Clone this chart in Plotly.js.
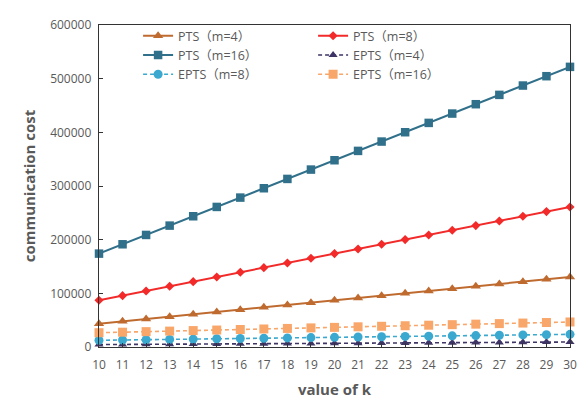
<!DOCTYPE html>
<html>
<head>
<meta charset="utf-8">
<script src="https://cdn.plot.ly/plotly-3.0.1.min.js"></script>
<style>html,body{margin:0;padding:0;background:#fff;}#chart{width:577px;height:400px;}</style>
</head>
<body>
<div id="chart"></div>
<script>
const kValues = [10,11,12,13,14,15,16,17,18,19,20,21,22,23,24,25,26,27,28,29,30];
const ptsM4 = [43500,47850,52200,56550,60900,65250,69600,73950,78300,82650,87000,91350,95700,100050,104400,108750,113100,117450,121800,126150,130500];
const ptsM8 = [87000,95700,104400,113100,121800,130500,139200,147900,156600,165300,174000,182700,191400,200100,208800,217500,226200,234900,243600,252300,261000];
const ptsM16 = [174000,191400,208800,226200,243600,261000,278400,295800,313200,330600,348000,365400,382800,400200,417600,435000,452400,469800,487200,504600,522000];
const eptsM4 = [4500,4750,5000,5250,5500,5700,5950,6200,6450,6700,6900,7150,7400,7650,7900,8100,8350,8600,8850,9100,9300];
const eptsM8 = [12500,13050,13600,14200,14700,15300,15800,16400,16900,17500,18000,18600,19100,19700,20200,20800,21300,21900,22500,23000,23600];
const eptsM16 = [26600,27600,28600,29600,30600,31600,32600,33600,34600,35600,36600,37600,38600,39600,40600,41600,42600,43600,44600,45600,46600];
const seriesNames = ['PTS（m=4）','PTS（m=8）','PTS（m=16）','EPTS（m=4）','EPTS（m=8）','EPTS（m=16）'];
const yTicks = [0,100000,200000,300000,400000,500000,600000];

const styles = [
  {color:'#BF6A2E', symbol:'triangle-up', size:9, dash:'solid', width:2},
  {color:'#F22A2A', symbol:'diamond', size:7, dash:'solid', width:2},
  {color:'#31708A', symbol:'square', size:8.5, dash:'solid', width:2},
  {color:'#3E3566', symbol:'triangle-up', size:8, dash:'4px,3px', width:1.6},
  {color:'#3BA9CF', symbol:'circle', size:9, dash:'4px,3px', width:1.6},
  {color:'#F9A66A', symbol:'square', size:9, dash:'4px,3px', width:1.6}
];
const allY = [ptsM4, ptsM8, ptsM16, eptsM4, eptsM8, eptsM16];
const traces = allY.map((ys,i)=>({
  x: kValues, y: ys, name: seriesNames[i], type:'scatter', mode:'lines+markers',
  line:{color:styles[i].color, width:styles[i].width, dash:styles[i].dash},
  marker:{color:styles[i].color, symbol:styles[i].symbol, size:styles[i].size},
  cliponaxis:false
}));

const fontFam = 'Open Sans, "Noto Sans CJK SC", sans-serif';
const layout = {
  width:577, height:400,
  margin:{l:99, r:7, t:25, b:53, autoexpand:false},
  paper_bgcolor:'#fff', plot_bgcolor:'#fff',
  font:{family:fontFam, color:'#595959', size:12},
  showlegend:true,
  legend:{orientation:'h', x:0.083, y:1.012, xanchor:'left', yanchor:'top',
    entrywidth:130, entrywidthmode:'pixels', bgcolor:'rgba(0,0,0,0)',
    font:{family:fontFam, size:12.5, color:'#595959'}, traceorder:'normal'},
  xaxis:{range:[10,30], tickvals:kValues, ticktext:kValues.map(String), automargin:false,
    showline:true, mirror:true, linecolor:'#333', linewidth:1.3, showgrid:false, zeroline:false,
    ticks:'inside', ticklen:4, tickcolor:'#333', tickfont:{size:12, color:'#595959'},
    ticklabelstandoff:6,
    title:{text:'value of k', font:{size:15, color:'#595959', weight:'bold'}, standoff:12}},
  yaxis:{range:[0,600000], tickvals:yTicks, ticktext:yTicks.map(String), automargin:false,
    showline:true, mirror:true, linecolor:'#333', linewidth:1.3, showgrid:false, zeroline:false,
    ticks:'inside', ticklen:4, tickcolor:'#333', tickfont:{size:12, color:'#595959'},
    ticklabelstandoff:4,
    title:{text:'communication cost', font:{size:15, color:'#595959', weight:'bold'}, standoff:11}}
};
Plotly.newPlot('chart', traces, layout, {displayModeBar:false, staticPlot:true});
</script>
</body>
</html>
